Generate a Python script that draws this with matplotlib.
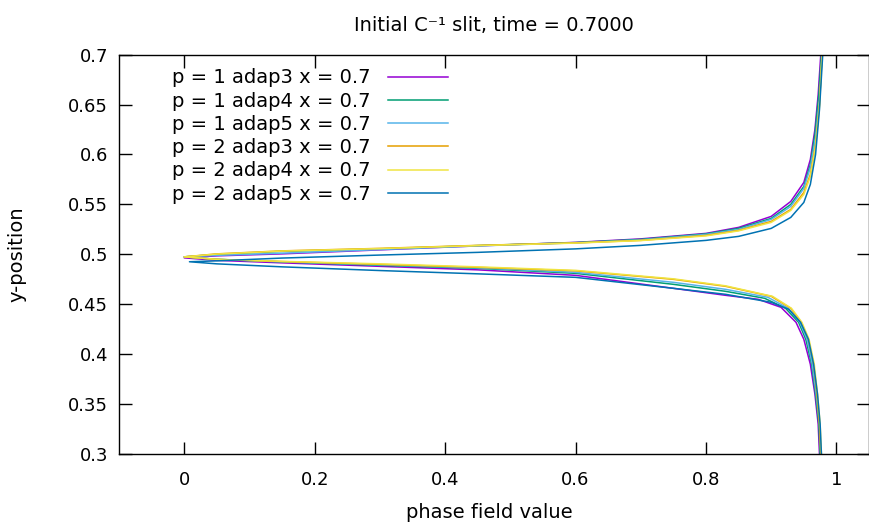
import numpy as np
import matplotlib.pyplot as plt

plt.rcParams['font.family'] = ['DejaVu Sans']

# each curve: lower branch (bottom -> tip) then upper branch (tip -> top)
labels = ["p = 1 adap3 x = 0.7", "p = 1 adap4 x = 0.7", "p = 1 adap5 x = 0.7",
          "p = 2 adap3 x = 0.7", "p = 2 adap4 x = 0.7", "p = 2 adap5 x = 0.7"]
colors = ["#9400d3", "#009e73", "#56b4e9", "#e69f00", "#f0e442", "#0072b2"]

p1a3_phase = [0.974, 0.972, 0.967, 0.960, 0.950, 0.938, 0.915, 0.88, 0.83, 0.75, 0.6, 0.45, 0.3, 0.15, 0.05, 0.0,
              0.05, 0.15, 0.3, 0.45, 0.6, 0.7, 0.8, 0.85, 0.9, 0.93, 0.95, 0.96, 0.967, 0.972, 0.976]
p1a3_y = [0.30, 0.33, 0.36, 0.39, 0.415, 0.432, 0.447, 0.455, 0.459, 0.466, 0.479, 0.4845, 0.488, 0.4915, 0.494, 0.4965,
          0.4985, 0.5005, 0.5045, 0.5085, 0.512, 0.5155, 0.521, 0.527, 0.538, 0.553, 0.572, 0.595, 0.625, 0.66, 0.70]

p1a4_phase = [0.975, 0.973, 0.968, 0.962, 0.953, 0.942, 0.922, 0.89, 0.83, 0.75, 0.6, 0.45, 0.3, 0.15, 0.05, 0.0,
              0.05, 0.15, 0.3, 0.45, 0.6, 0.7, 0.8, 0.85, 0.9, 0.93, 0.95, 0.96, 0.967, 0.973, 0.977]
p1a4_y = [0.30, 0.33, 0.36, 0.39, 0.415, 0.432, 0.446, 0.456, 0.463, 0.470, 0.481, 0.486, 0.489, 0.4925, 0.495, 0.4975,
          0.5, 0.503, 0.5055, 0.5088, 0.5118, 0.515, 0.5205, 0.526, 0.536, 0.55, 0.568, 0.59, 0.62, 0.66, 0.70]

p1a5_phase = [0.976, 0.974, 0.969, 0.963, 0.955, 0.944, 0.926, 0.895, 0.83, 0.75, 0.6, 0.45, 0.3, 0.15, 0.05, 0.0,
              0.05, 0.15, 0.3, 0.45, 0.6, 0.7, 0.8, 0.85, 0.9, 0.93, 0.95, 0.96, 0.968, 0.974, 0.978]
p1a5_y = [0.30, 0.33, 0.36, 0.39, 0.415, 0.432, 0.446, 0.457, 0.465, 0.472, 0.482, 0.4865, 0.4895, 0.4925, 0.495, 0.4975,
          0.499, 0.5012, 0.5048, 0.5085, 0.5115, 0.5145, 0.52, 0.525, 0.535, 0.548, 0.566, 0.587, 0.617, 0.655, 0.70]

p2a3_phase = [0.976, 0.974, 0.970, 0.965, 0.957, 0.946, 0.93, 0.9, 0.83, 0.75, 0.6, 0.45, 0.3, 0.15, 0.05, 0.0,
              0.05, 0.15, 0.3, 0.45, 0.6, 0.7, 0.8, 0.85, 0.9, 0.93, 0.95, 0.96, 0.968, 0.974, 0.978]
p2a3_y = [0.30, 0.33, 0.36, 0.39, 0.415, 0.432, 0.446, 0.458, 0.468, 0.475, 0.4835, 0.487, 0.490, 0.4928, 0.495, 0.4975,
          0.5005, 0.5035, 0.506, 0.509, 0.5115, 0.514, 0.519, 0.524, 0.533, 0.545, 0.562, 0.58, 0.61, 0.65, 0.70]

p2a4_phase = [0.977, 0.975, 0.971, 0.966, 0.958, 0.947, 0.931, 0.902, 0.83, 0.75, 0.6, 0.45, 0.3, 0.15, 0.05, 0.0,
              0.05, 0.15, 0.3, 0.45, 0.6, 0.7, 0.8, 0.85, 0.9, 0.93, 0.95, 0.96, 0.968, 0.974, 0.978]
p2a4_y = [0.30, 0.33, 0.36, 0.39, 0.415, 0.432, 0.446, 0.458, 0.4685, 0.4755, 0.484, 0.4875, 0.4905, 0.493, 0.495, 0.4975,
          0.5003, 0.5033, 0.5058, 0.5088, 0.5113, 0.5138, 0.5185, 0.5235, 0.532, 0.544, 0.56, 0.578, 0.608, 0.648, 0.70]

p2a5_phase = [0.977, 0.975, 0.971, 0.965, 0.957, 0.945, 0.927, 0.9, 0.83, 0.75, 0.6, 0.45, 0.3, 0.15, 0.05, 0.008,
              0.05, 0.15, 0.3, 0.45, 0.6, 0.7, 0.8, 0.85, 0.9, 0.93, 0.95, 0.96, 0.968, 0.974, 0.979]
p2a5_y = [0.30, 0.33, 0.36, 0.39, 0.415, 0.432, 0.445, 0.452, 0.460, 0.466, 0.477, 0.4805, 0.4838, 0.4875, 0.4905, 0.4926,
          0.4935, 0.4963, 0.4993, 0.502, 0.5055, 0.509, 0.514, 0.518, 0.526, 0.537, 0.552, 0.57, 0.60, 0.645, 0.70]

phases = [p1a3_phase, p1a4_phase, p1a5_phase, p2a3_phase, p2a4_phase, p2a5_phase]
ys = [p1a3_y, p1a4_y, p1a5_y, p2a3_y, p2a4_y, p2a5_y]

fig = plt.figure(figsize=(8.7, 5.25), dpi=100)
ax = fig.add_axes([0.1368, 0.135, 0.8621, 0.761])

for ph, y, lab, c in zip(phases, ys, labels, colors):
    ax.plot(ph, y, color=c, lw=1.1, label=lab)

ax.set_xlim(-0.1, 1.05)
ax.set_ylim(0.3, 0.7)
ax.set_xticks(np.arange(0, 1.01, 0.2))
ax.set_xticklabels(["0", "0.2", "0.4", "0.6", "0.8", "1"])
ax.set_yticks(np.arange(0.3, 0.701, 0.05))
ax.set_yticklabels(["0.3", "0.35", "0.4", "0.45", "0.5", "0.55", "0.6", "0.65", "0.7"])
ax.tick_params(direction="in", length=9, width=1, top=True, right=True, labelsize=13)
ax.tick_params(axis="x", pad=12)
ax.tick_params(axis="y", pad=8)
for s in ax.spines.values():
    s.set_linewidth(1)

ax.set_xlabel("phase field value", fontsize=14)
ax.xaxis.set_label_coords(0.494, -0.122)
ax.set_ylabel("y-position", fontsize=14)
ax.yaxis.set_label_coords(-0.124, 0.5)
ax.set_title("Initial C\u207b\u00b9 slit, time = 0.7000", fontsize=14, pad=17)

ax.legend(loc="upper left", bbox_to_anchor=(0.06, 0.985), frameon=False, markerfirst=False,
          fontsize=14, handlelength=3.1, handletextpad=0.9, labelspacing=0.22, borderaxespad=0)

fig.savefig("out.png", dpi=100)
